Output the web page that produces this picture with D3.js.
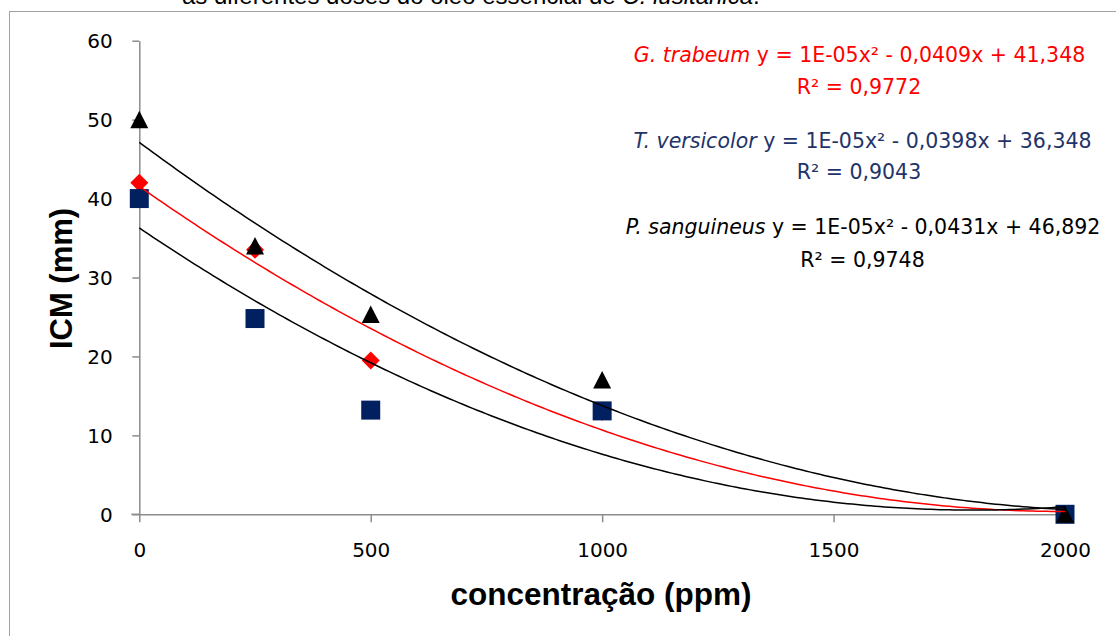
<!DOCTYPE html>
<html>
<head>
<meta charset="utf-8">
<script src="https://cdn.jsdelivr.net/npm/d3@7"></script>
<style>
  html, body { margin: 0; padding: 0; background: #fff; overflow: hidden; }
  svg { display: block; }
</style>
</head>
<body>
<svg id="chart" width="1116" height="636"></svg>
<script>
// ---- Data ----
const concentrations = [0, 250, 500, 1000, 2000];
const gTrabeum    = [42, 33.5, 19.5, 13, 0];
const tVersicolor = [40, 24.8, 13.2, 13.1, 0];
const pSanguineus = [50, 34, 25.3, 17, 0];

const xTickValues = [0, 500, 1000, 1500, 2000];
const yTickValues = [0, 10, 20, 30, 40, 50, 60];

const titleText = "as diferentes doses do óleo essencial de ";
const titleItalic = "C. lusitanica";
const xAxisTitle = "concentração (ppm)";
const yAxisTitle = "ICM (mm)";

const speciesNames = ["G. trabeum", "T. versicolor", "P. sanguineus"];
const equationTexts = [
  " y = 1E-05x² - 0,0409x + 41,348",
  " y = 1E-05x² - 0,0398x + 36,348",
  " y = 1E-05x² - 0,0431x + 46,892"
];
const r2Texts = ["R² = 0,9772", "R² = 0,9043", "R² = 0,9748"];

// ---- Styling ----
const W = 1116, H = 636;
const svg = d3.select("#chart");
const x = d3.scaleLinear().domain([0, 2000]).range([139.3, 1065]);
const y = d3.scaleLinear().domain([0, 60]).range([514.3, 40.7]);
const axisColor = "#8c8c8c";
const tickFont = "'DejaVu Sans', sans-serif";

// outer frame (left + top visible)
svg.append("rect").attr("x", 9.5).attr("y", 11.5).attr("width", 1300).attr("height", 800)
  .attr("fill", "none").attr("stroke", "#a0a0a0").attr("stroke-width", 1);

// cut-off title
const t = svg.append("text").attr("x", 182).attr("y", 4)
  .attr("font-family", "'Liberation Sans', Arial, sans-serif").attr("font-size", 24).attr("fill", "#000");
t.append("tspan").text(titleText);
t.append("tspan").attr("font-style", "italic").text(titleItalic);
t.append("tspan").text(".");

// axes
const gx = svg.append("g").attr("transform", `translate(0,${y(0)})`)
  .call(d3.axisBottom(x).tickValues(xTickValues).tickSize(8).tickSizeOuter(0).tickFormat(d3.format("d")));
gx.selectAll("text").attr("y", 42.7).attr("dy", null)
  .attr("font-family", tickFont).attr("font-size", 20).attr("fill", "#000");

const gy = svg.append("g").attr("transform", `translate(${x(0)},0)`)
  .call(d3.axisLeft(y).tickValues(yTickValues).tickSize(7).tickSizeOuter(0).tickPadding(19.6).tickFormat(d3.format("d")));
gy.selectAll("text").attr("dy", "0.36em")
  .attr("font-family", tickFont).attr("font-size", 20).attr("fill", "#000");

[gx, gy].forEach(g => {
  g.select(".domain").attr("stroke", axisColor).attr("stroke-width", 1.5);
  g.selectAll(".tick line").attr("stroke", axisColor).attr("stroke-width", 1.5);
});
// extend x axis line slightly left of y axis like the reference
svg.append("line").attr("x1", x(0) - 8).attr("x2", x(0)).attr("y1", y(0)).attr("y2", y(0))
  .attr("stroke", axisColor).attr("stroke-width", 1.5);

// axis titles
svg.append("text").attr("x", 601).attr("y", 605).attr("text-anchor", "middle")
  .attr("font-family", "'Liberation Sans', Arial, sans-serif").attr("font-weight", "bold")
  .attr("font-size", 31.5).attr("fill", "#000").text(xAxisTitle);
svg.append("text").attr("transform", "translate(72,278.5) rotate(-90)").attr("text-anchor", "middle")
  .attr("font-family", "'Liberation Sans', Arial, sans-serif").attr("font-weight", "bold")
  .attr("font-size", 31).attr("fill", "#000").text(yAxisTitle);

// series
const navy = "#002060";
const series = [
  { values: gTrabeum, color: "#ff0000", trend: "#ff0000", shape: "diamond" },
  { values: tVersicolor, color: navy, trend: "#000000", shape: "square" },
  { values: pSanguineus, color: "#000000", trend: "#000000", shape: "triangle" }
];

function markerPath(shape) {
  if (shape === "diamond") return "M0,-9L9,0L0,9L-9,0Z";
  if (shape === "square") return "M-9.5,-9.5H9.5V9.5H-9.5Z";
  return "M0,-9L9,8.5L-9,8.5Z";
}

series.forEach(s => {
  svg.append("g").selectAll("path").data(concentrations.map((c, i) => [c, s.values[i]]))
    .join("path").attr("d", markerPath(s.shape))
    .attr("transform", d => `translate(${x(d[0])},${y(d[1])})`)
    .attr("fill", s.color);
});

// quadratic least-squares trend lines computed from the data
function quadFit(xs, ys) {
  let S = [0, 0, 0, 0, 0], T = [0, 0, 0];
  xs.forEach((xv, i) => {
    const u = xv / 1000;
    for (let k = 0; k < 5; k++) S[k] += Math.pow(u, k);
    for (let k = 0; k < 3; k++) T[k] += ys[i] * Math.pow(u, k);
  });
  const A = [[S[0], S[1], S[2], T[0]], [S[1], S[2], S[3], T[1]], [S[2], S[3], S[4], T[2]]];
  for (let i = 0; i < 3; i++) {
    for (let j = i + 1; j < 3; j++) {
      const f = A[j][i] / A[i][i];
      for (let k = i; k < 4; k++) A[j][k] -= f * A[i][k];
    }
  }
  const r = [0, 0, 0];
  for (let i = 2; i >= 0; i--) {
    let sum = A[i][3];
    for (let k = i + 1; k < 3; k++) sum -= A[i][k] * r[k];
    r[i] = sum / A[i][i];
  }
  return xv => { const u = xv / 1000; return r[0] + r[1] * u + r[2] * u * u; };
}

const line = d3.line().x(d => x(d[0])).y(d => y(d[1]));
const xs = d3.range(0, 2001, 10);
series.forEach(s => {
  const f = quadFit(concentrations, s.values);
  svg.append("path").attr("d", line(xs.map(v => [v, f(v)])))
    .attr("fill", "none").attr("stroke", s.trend).attr("stroke-width", 1.5);
});

// equation labels
const labelColors = ["#ff0000", "#1f3468", "#000000"];
const eqCenters = [859.5, 862.5, 863];
const eqBaselines = [62, 148.3, 234];
const r2Centers = [859, 859, 862.5];
const r2Baselines = [94, 179.3, 267.3];
const eqFont = "'DejaVu Sans', sans-serif";
speciesNames.forEach((name, i) => {
  const tx = svg.append("text").attr("x", eqCenters[i]).attr("y", eqBaselines[i])
    .attr("text-anchor", "middle").attr("font-family", eqFont).attr("font-size", 20.5)
    .attr("fill", labelColors[i]);
  tx.append("tspan").attr("font-style", "italic").text(name);
  tx.append("tspan").text(equationTexts[i]);
  svg.append("text").attr("x", r2Centers[i]).attr("y", r2Baselines[i])
    .attr("text-anchor", "middle").attr("font-family", eqFont).attr("font-size", 20.5)
    .attr("fill", labelColors[i]).text(r2Texts[i]);
});
</script>
</body>
</html>
